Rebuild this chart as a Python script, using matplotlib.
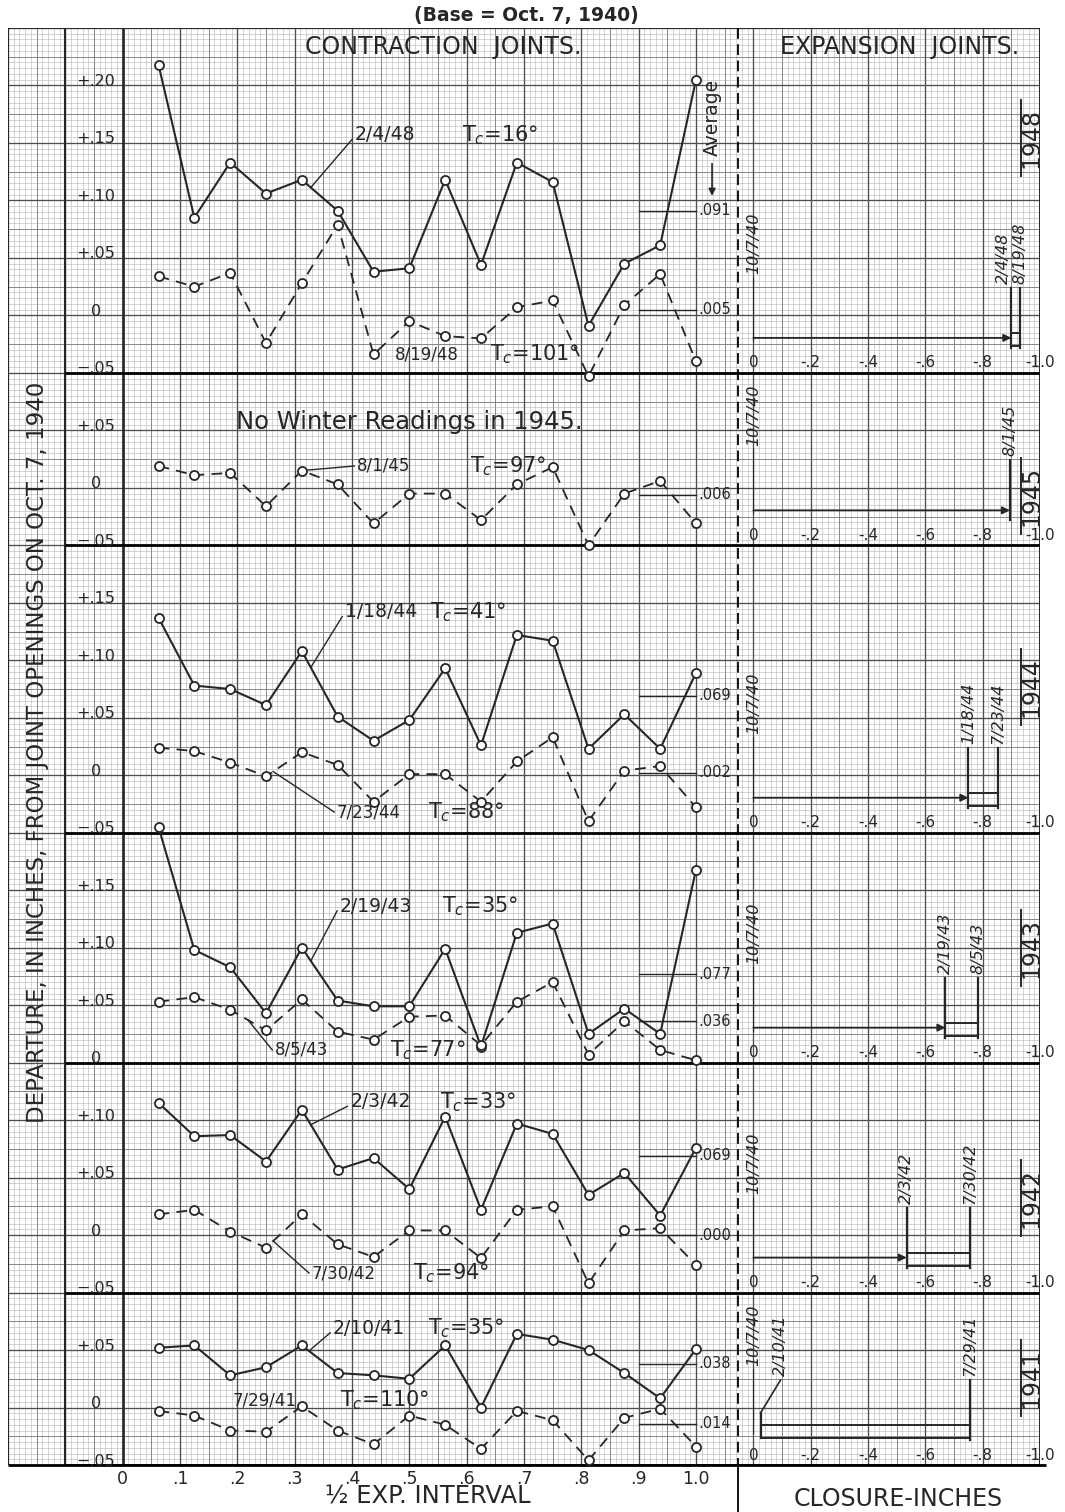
import matplotlib.pyplot as plt
from matplotlib.lines import Line2D

# ---- data ----
joint_x = [0.0625, 0.125, 0.1875, 0.25, 0.3125, 0.375, 0.4375, 0.5,
           0.5625, 0.625, 0.6875, 0.75, 0.8125, 0.875, 0.9375, 1.0]

years = ['1948', '1945', '1944', '1943', '1942', '1941']
winter_dates = ['2/4/48', None, '1/18/44', '2/19/43', '2/3/42', '2/10/41']
summer_dates = ['8/19/48', '8/1/45', '7/23/44', '8/5/43', '7/30/42', '7/29/41']
winter_tc = ['16°', None, '41°', '35°', '33°', '35°']
summer_tc = ['101°', '97°', '88°', '77°', '94°', '110°']

winter_48 = [0.218, 0.085, 0.133, 0.106, 0.118, 0.091, 0.038, 0.041, 0.118, 0.044, 0.133, 0.116, -0.009, 0.045, 0.061, 0.205]
summer_48 = [0.034, 0.025, 0.037, -0.024, 0.028, 0.079, -0.034, -0.005, -0.018, -0.020, 0.007, 0.013, -0.053, 0.009, 0.036, -0.040]
summer_45 = [0.019, 0.011, 0.013, -0.016, 0.015, 0.003, -0.031, -0.005, -0.005, -0.028, 0.003, 0.018, -0.050, -0.005, 0.006, -0.031]
winter_44 = [0.137, 0.078, 0.075, 0.061, 0.108, 0.051, 0.030, 0.048, 0.093, 0.026, 0.122, 0.117, 0.023, 0.053, 0.023, 0.089]
summer_44 = [0.024, 0.021, 0.011, -0.001, 0.020, 0.009, -0.023, 0.001, 0.001, -0.023, 0.012, 0.033, -0.040, 0.004, 0.008, -0.028]
winter_43 = [0.205, 0.098, 0.083, 0.043, 0.100, 0.054, 0.049, 0.049, 0.099, 0.014, 0.113, 0.121, 0.025, 0.047, 0.025, 0.168]
summer_43 = [0.053, 0.057, 0.046, 0.028, 0.055, 0.027, 0.020, 0.040, 0.041, 0.015, 0.053, 0.070, 0.007, 0.036, 0.011, 0.002]
winter_42 = [0.115, 0.086, 0.087, 0.064, 0.109, 0.057, 0.067, 0.040, 0.103, 0.022, 0.097, 0.088, 0.035, 0.054, 0.017, 0.076]
summer_42 = [0.018, 0.022, 0.003, -0.011, 0.018, -0.008, -0.019, 0.004, 0.004, -0.020, 0.022, 0.025, -0.042, 0.004, 0.006, -0.026]
winter_41 = [0.052, 0.054, 0.028, 0.035, 0.054, 0.030, 0.028, 0.025, 0.054, 0.000, 0.064, 0.059, 0.050, 0.030, 0.008, 0.051]
summer_41 = [-0.003, -0.007, -0.020, -0.021, 0.001, -0.020, -0.032, -0.007, -0.015, -0.036, -0.003, -0.011, -0.046, -0.009, -0.001, -0.034]

winter_series = [winter_48, None, winter_44, winter_43, winter_42, winter_41]
summer_series = [summer_48, summer_45, summer_44, summer_43, summer_42, summer_41]

winter_avg = [0.091, None, 0.069, 0.077, 0.069, 0.038]
summer_avg = [0.005, -0.006, 0.002, 0.036, 0.000, -0.014]
winter_avg_lbl = ['.091', None, '.069', '.077', '.069', '.038']
summer_avg_lbl = ['.005', '.006', '.002', '.036', '.000', '.014']

# expansion joints closure (inches)
closure_winter = [-0.90, None, -0.75, -0.67, -0.535, -0.025]
closure_summer = [-0.93, -0.895, -0.855, -0.785, -0.755, -0.755]

y_ranges = [(-0.05, 0.25), (-0.05, 0.10), (-0.05, 0.20), (0.0, 0.20), (-0.05, 0.15), (-0.05, 0.10)]
y_tick_vals = [[0.20, 0.15, 0.10, 0.05, 0, -0.05], [0.05, 0, -0.05],
               [0.15, 0.10, 0.05, 0, -0.05], [0.15, 0.10, 0.05, 0],
               [0.10, 0.05, 0, -0.05], [0.05, 0, -0.05]]
x_ticks = [0, .1, .2, .3, .4, .5, .6, .7, .8, .9, 1.0]
x_tick_lbl = ['0', '.1', '.2', '.3', '.4', '.5', '.6', '.7', '.8', '.9', '1.0']
cl_ticks = [0, -0.2, -0.4, -0.6, -0.8, -1.0]
cl_tick_lbl = ['0', '-.2', '-.4', '-.6', '-.8', '-1.0']

# annotation placement (data coords of each panel)
win_txt = [(0.405, 0.157), None, (0.388, 0.142), (0.379, 0.136), (0.397, 0.116), (0.367, 0.069)]
win_tc_x = [0.591, None, 0.536, 0.557, 0.553, 0.532]
win_lead = [(4, 0.25), None, (4, 0.25), (4, 0.25), (4, 0.25), (4, 0.2)]
sum_txt = [(0.475, -0.034), (0.409, 0.019), (0.374, -0.032), (0.266, 0.011), (0.330, -0.033), (0.191, 0.0065)]
sum_tc_x = [0.64, 0.605, 0.532, 0.466, 0.506, 0.379]
sum_lead = [None, (4, 0.0), (3, 0.2), (2, 0.5), (3, 0.2), None]

# ---- layout ----
W, H = 1065, 1512
GX0, GX1, GY0, GY1 = 8, 1040, 28, 1465
cells_y = [6, 3, 5, 4, 4, 3]
cx = (GX1 - GX0) / 18
cy = (GY1 - GY0) / 25
ink = '#262626'


def fx(px):
    return px / W


def fy(py):
    return 1 - py / H


def tick_fmt(v):
    if v == 0:
        return '0'
    s = f'{abs(v):.2f}'[1:]
    return ('+' if v > 0 else '−') + s


fig = plt.figure(figsize=(W / 100, H / 100), dpi=100)
fig.patch.set_facecolor('white')

# chart paper
bg = fig.add_axes([fx(GX0), fy(GY1), (GX1 - GX0) / W, (GY1 - GY0) / H])
bg.set_xlim(0, 18)
bg.set_ylim(25, 0)
bg.axis('off')
fine_x = [i / 10 for i in range(181) if i % 5]
med_x = [i / 10 for i in range(181) if i % 5 == 0 and i % 10]
fine_y = [i / 10 for i in range(251) if i % 5]
med_y = [i / 10 for i in range(251) if i % 5 == 0 and i % 10]
bg.vlines(fine_x, 0, 25, color='#b4b4b4', lw=0.4)
bg.hlines(fine_y, 0, 18, color='#b4b4b4', lw=0.4)
bg.vlines(med_x, 0, 25, color='#7e7e7e', lw=0.65)
bg.hlines(med_y, 0, 18, color='#7e7e7e', lw=0.65)
bg.vlines(range(19), 0, 25, color='#4e4e4e', lw=0.95)
bg.hlines(range(26), 0, 18, color='#4e4e4e', lw=0.95)
bg.vlines([0, 18], 0, 25, color=ink, lw=1.4)
bg.hlines(0, 0, 18, color=ink, lw=1.2)
bg.vlines([1], 0, 25, color=ink, lw=1.5)
bg.vlines([2], 0, 25, color=ink, lw=1.9)
cum = 0
for c in cells_y:
    cum += c
    bg.hlines(cum, 1, 18, color='black', lw=2.0)
bg.hlines(25, 0, 18.1, color='black', lw=2.0, clip_on=False)
sep_x = (738 - GX0) / cx
bg.vlines(sep_x, 0, 25, color='black', lw=1.3, linestyles=(0, (6, 3)))
fig.add_artist(Line2D([fx(738), fx(738)], [fy(1465), fy(1512)], color='black', lw=1.3))

# panels
top = GY0
for i, yr in enumerate(years):
    h = cells_y[i] * cy
    bot = top + h
    ax = fig.add_axes([fx(GX0), fy(bot), 13 * cx / W, h / H])
    ax.set_xlim(-0.2, 1.1)
    ax.set_ylim(*y_ranges[i])
    ax.axis('off')

    for v in y_tick_vals[i]:
        ax.annotate(tick_fmt(v), xy=(-0.047, v), xytext=(0, 4), textcoords='offset pixels',
                    ha='center', va='center', fontsize=11.5, color=ink)

    ws, ss = winter_series[i], summer_series[i]
    if ws is not None:
        ax.plot(joint_x, ws, color=ink, lw=1.5, marker='o', ms=6.5, mfc='white',
                mec=ink, mew=1.3, clip_on=False, zorder=4)
    ax.plot(joint_x, ss, color=ink, lw=1.3, ls=(0, (6, 4)), marker='o', ms=6.5,
            mfc='white', mec=ink, mew=1.3, clip_on=False, zorder=4)

    # averages
    if winter_avg[i] is not None:
        ax.plot([0.90, 1.0], [winter_avg[i]] * 2, color=ink, lw=1.0)
        ax.text(1.005, winter_avg[i], winter_avg_lbl[i], fontsize=10.5, va='center', color=ink)
    ax.plot([0.90, 1.0], [summer_avg[i]] * 2, color=ink, lw=1.0)
    ax.text(1.005, summer_avg[i], summer_avg_lbl[i], fontsize=10.5, va='center', color=ink)

    # date / temperature labels
    if winter_dates[i] is not None:
        tx, ty = win_txt[i]
        ax.text(tx, ty, winter_dates[i], fontsize=13.5, va='center', color=ink)
        ax.text(win_tc_x[i], ty, 'T$_c$=' + winter_tc[i], fontsize=15, va='center', color=ink)
        k, t = win_lead[i]
        px_ = joint_x[k] + t * (joint_x[k + 1] - joint_x[k])
        py_ = ws[k] + t * (ws[k + 1] - ws[k])
        ax.plot([tx - 0.005, px_], [ty - 0.004, py_], color=ink, lw=1.0)
    tx, ty = sum_txt[i]
    ax.text(tx, ty, summer_dates[i], fontsize=12, va='center', color=ink)
    ax.text(sum_tc_x[i], ty, 'T$_c$=' + summer_tc[i], fontsize=15, va='center', color=ink)
    if sum_lead[i] is not None:
        k, t = sum_lead[i]
        px_ = joint_x[k] + t * (joint_x[k + 1] - joint_x[k])
        py_ = ss[k] + t * (ss[k + 1] - ss[k])
        ax.plot([tx - 0.005, px_], [ty, py_], color=ink, lw=1.0)

    if i == 0:
        ax.text(1.028, 0.172, 'Average', rotation=90, fontsize=13.5, ha='center', va='center', color=ink)
        ax.annotate('', xy=(1.028, 0.104), xytext=(1.028, 0.132),
                    arrowprops=dict(arrowstyle='-|>', color=ink, lw=1.2, mutation_scale=10,
                                    shrinkA=0, shrinkB=0))
    if i == 1:
        ax.text(0.50, 0.057, 'No Winter Readings in 1945.', fontsize=17.5, ha='center',
                va='center', color=ink)
    if i == len(years) - 1:
        for xv, lb in zip(x_ticks, x_tick_lbl):
            ax.annotate(lb, xy=(xv, y_ranges[i][0]), xytext=(0, -14), textcoords='offset pixels',
                        ha='center', va='center', fontsize=12.5, color=ink)

    # expansion joints
    ex = fig.add_axes([fx(GX0 + 13 * cx), fy(bot), 5 * cx / W, h / H])
    ex.set_xlim(0, -1.0)
    ex.set_ylim(0, h)
    ex.axis('off')
    for xv, lb in zip(cl_ticks, cl_tick_lbl):
        ex.text(xv, 10, lb, fontsize=11, ha='center', va='center', color=ink, clip_on=False)
    ex.plot([0, 0], [32, 95], color=ink, lw=1.6)
    ex.text(0, 99, '10/7/40', rotation=90, fontsize=11.5, style='italic', ha='center',
            va='bottom', color=ink)
    cw, cs = closure_winter[i], closure_summer[i]
    target = cw if cw is not None else cs
    if abs(target) > 0.1:
        ex.annotate('', xy=(target, 35), xytext=(0, 35),
                    arrowprops=dict(arrowstyle='-|>', color=ink, lw=1.3, mutation_scale=11,
                                    shrinkA=0, shrinkB=0))
    ex.plot([cs, cs], [25, 85], color=ink, lw=1.6)
    if cw is not None:
        ex.plot([cw, cs], [27, 27], color=ink, lw=1.4)
        ex.plot([cw, cs], [40, 40], color=ink, lw=1.4)
        if abs(cw) < 0.1:
            ex.plot([cw, cw], [27, 52], color=ink, lw=1.6)
            ex.plot([cw, cw - 0.07], [52, 85], color=ink, lw=1.2)
            ex.text(cw - 0.07, 89, winter_dates[i], rotation=90, fontsize=11.5, style='italic',
                    ha='center', va='bottom', color=ink)
        else:
            ex.plot([cw, cw], [25, 85], color=ink, lw=1.6)
            ha = 'right' if abs(cw - cs) < 0.08 else 'center'
            ex.text(cw, 89, winter_dates[i], rotation=90, fontsize=11.5, style='italic',
                    ha=ha, va='bottom', color=ink)
    ex.text(cs, 89, summer_dates[i], rotation=90, fontsize=11.5, style='italic',
            ha='center', va='bottom', color=ink)
    top = bot

# year labels on the right
year_y = [138, 496, 687, 948, 1198, 1378]
for yr, yc in zip(years, year_y):
    fig.text(fx(1031), fy(yc), yr, rotation=90, fontsize=17, ha='center', va='center', color=ink)
    fig.add_artist(Line2D([fx(1021), fx(1021)], [fy(yc - 38), fy(yc + 38)], color=ink, lw=1.4))

# titles and axis captions
fig.text(fx(526), fy(16), '(Base = Oct. 7, 1940)', fontsize=13.5, weight='bold', ha='center',
         va='center', color=ink)
fig.text(fx(443), fy(47), 'CONTRACTION  JOINTS.', fontsize=17, ha='center', va='center', color=ink)
fig.text(fx(900), fy(47), 'EXPANSION  JOINTS.', fontsize=17, ha='center', va='center', color=ink)
fig.text(fx(38), fy(752), 'DEPARTURE, IN INCHES, FROM JOINT OPENINGS ON OCT. 7, 1940',
         rotation=90, fontsize=16.5, ha='center', va='center', color=ink)
fig.text(fx(428), fy(1497), '½ EXP. INTERVAL', fontsize=17.5, ha='center', va='center', color=ink)
fig.text(fx(898), fy(1499), 'CLOSURE-INCHES', fontsize=17, ha='center', va='center', color=ink)

fig.savefig('out.png', dpi=100)
